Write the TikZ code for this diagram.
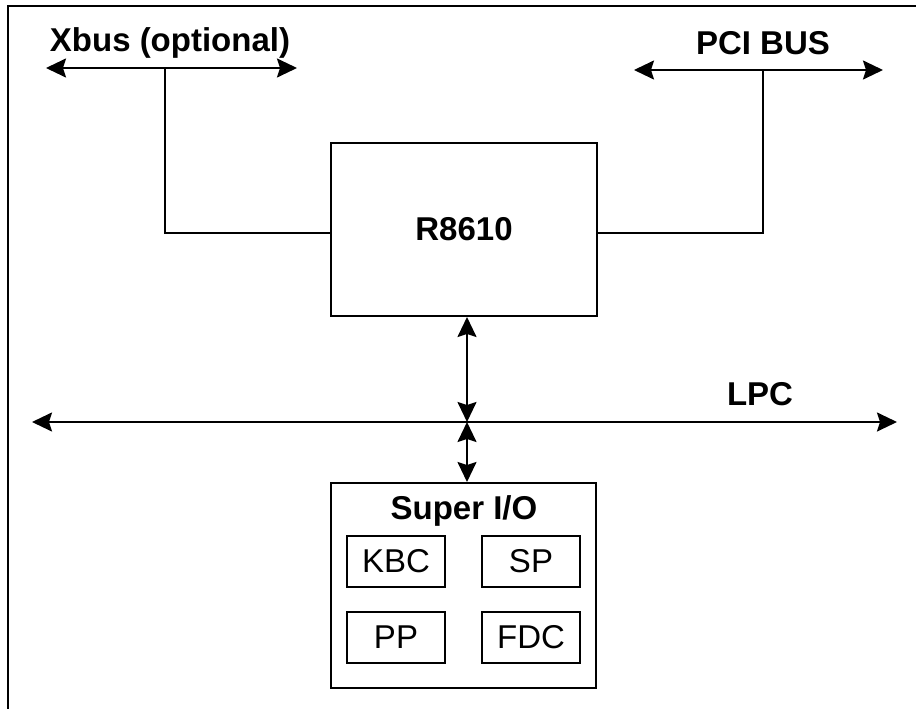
\documentclass[tikz,border=0pt]{standalone}
\usepackage{fontspec}
\setmainfont{Liberation Sans}
\usetikzlibrary{arrows.meta}
\tikzset{
  lbl/.style={font=\fontsize{33}{39}\selectfont\bfseries, inner sep=0pt, anchor=center},
  blk/.style={draw, line width=2pt, inner sep=0pt},
  sub/.style={draw, line width=2pt, minimum width=98pt, minimum height=51pt, inner sep=0pt, font=\fontsize{33}{39}\selectfont},
  wire/.style={line width=2pt},
  bus/.style={line width=2pt, {Stealth[length=20pt,width=19pt,inset=3pt]}-{Stealth[length=20pt,width=19pt,inset=3pt]}},
}
\begin{document}
\begin{tikzpicture}[x=1pt,y=-1pt]
\useasboundingbox (0,0) rectangle (916,709);
% frame
\draw[line width=2.6pt] (8,709) -- (8,6) -- (916,6);
% main chip
\node[blk, minimum width=266pt, minimum height=173pt] (r) at (464,229.5) {};
\node[lbl] (rl) at (464,229) {R8610};
% super io
\node[blk, minimum width=265pt, minimum height=205pt] (sio) at (463.5,585.5) {};
\node[lbl] (siol) at (464,511) {Super I/O};
\node[sub] (kbc) at (396,561.5) {KBC};
\node[sub] (sp) at (531,561.5) {SP};
\node[sub] (pp) at (396,637) {PP};
\node[sub] (fdc) at (531,637) {FDC};
% Xbus
\coordinate (xl) at (46,68);
\coordinate (xr) at (297,68);
\coordinate (xj) at (165,68);
\node[lbl] (xbl) at (170,43) {Xbus (optional)};
\draw[bus] (xl) -- (xr);
\draw[wire] (xj) |- ([yshift=-3.5pt]r.west);
% PCI
\coordinate (pl) at (634,70);
\coordinate (pr) at (883,70);
\coordinate (pj) at (763,70);
\node[lbl] (pcil) at (763,43) {PCI BUS};
\draw[bus] (pl) -- (pr);
\draw[wire] (pj) |- ([yshift=-3.5pt]r.east);
% LPC
\coordinate (ll) at (32,422);
\coordinate (lr) at (897,422);
\coordinate (lj) at (467,422);
\node[lbl] (lpcl) at (760,394) {LPC};
\draw[bus] (ll) -- (lr);
\draw[bus] (lj |- r.south) -- (lj);
\draw[bus] (lj) -- (lj |- sio.north);
\end{tikzpicture}
\end{document}
